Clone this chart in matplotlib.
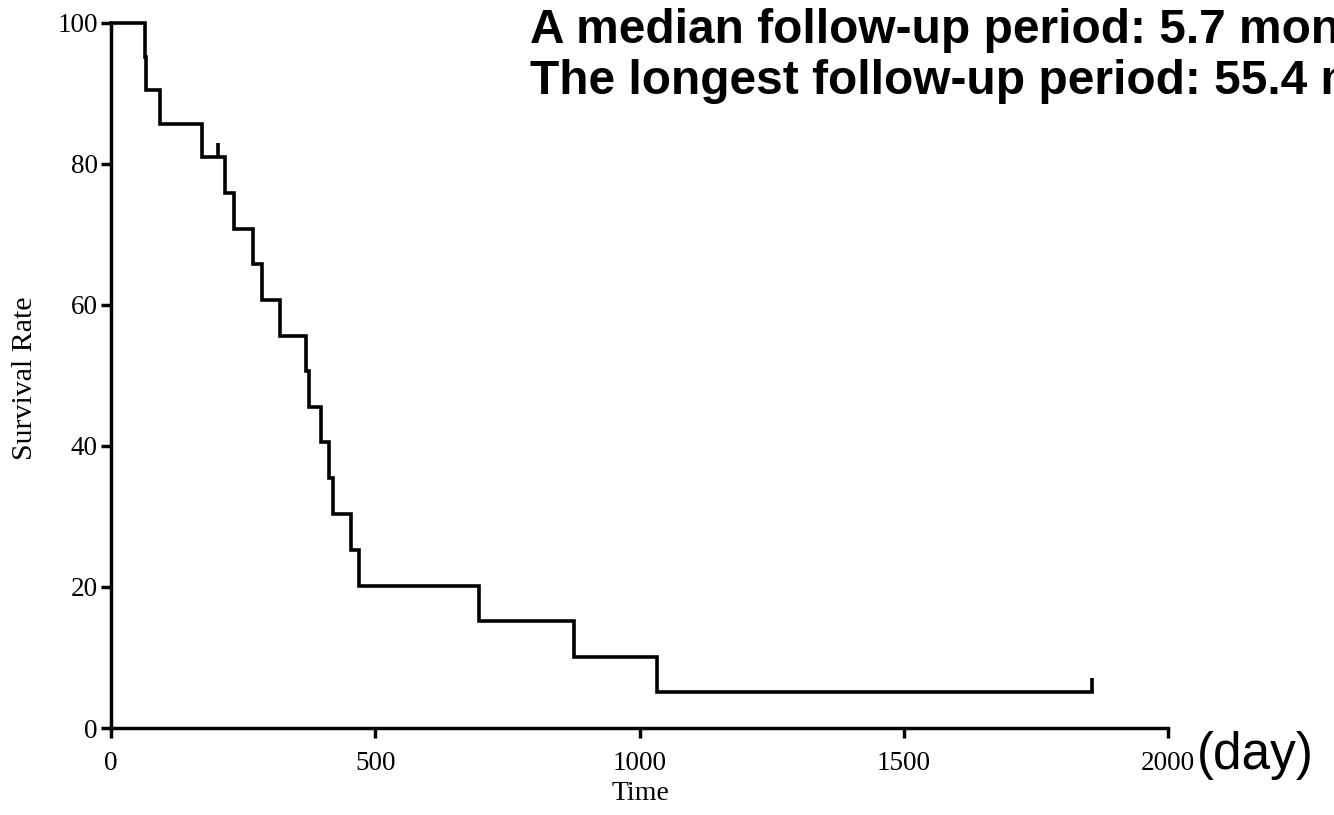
import matplotlib
matplotlib.use("Agg")
import matplotlib.pyplot as plt

# ---- data ----
event_times = [0, 65, 67, 93, 173, 216, 232, 268, 285, 320, 369, 375, 397, 412,
               421, 455, 469, 697, 876, 1033, 1857]
survival = [100, 95.2, 90.5, 85.7, 81.0, 75.9, 70.8, 65.8, 60.7, 55.6, 50.6,
            45.5, 40.5, 35.4, 30.4, 25.3, 20.2, 15.2, 10.1, 5.1, 5.1]
censor_times = [203, 1857]
censor_surv = [81.0, 5.1]
x_ticks = [0, 500, 1000, 1500, 2000]
y_ticks = [0, 20, 40, 60, 80, 100]
title_lines = ["A median follow-up period: 5.7 months",
               "The longest follow-up period: 55.4 months"]

W, H = 1334, 815
fig = plt.figure(figsize=(W / 100, H / 100), dpi=100)
ax = fig.add_axes([111 / W, 1 - 728 / H, (1168 - 111) / W, (728 - 22.7) / H])

ax.step(event_times, survival, where="post", color="black", lw=2.6,
        clip_on=False, solid_joinstyle="miter")
ax.vlines(censor_times, censor_surv, [s + 2.0 for s in censor_surv],
          color="black", lw=2.6, clip_on=False)

ax.set_xlim(0, 2000)
ax.set_ylim(0, 100)
ax.set_xticks(x_ticks)
ax.set_yticks(y_ticks)
for s in ["top", "right"]:
    ax.spines[s].set_visible(False)
for s in ["left", "bottom"]:
    ax.spines[s].set_linewidth(2.5)
    ax.spines[s].set_color("black")

serif = "Liberation Serif"
ax.tick_params(axis="both", direction="out", length=7.5, width=2.5,
               colors="black", labelsize=19.5)
ax.tick_params(axis="y", pad=2)
ax.tick_params(axis="x", pad=9)
for lab in ax.get_xticklabels() + ax.get_yticklabels():
    lab.set_fontfamily(serif)

fig.text(25 / W, 1 - 378 / H, "Survival Rate", rotation=90, ha="center",
         va="center", fontsize=21.5, family=serif)
fig.text(640 / W, 1 - 800 / H, "Time", ha="center", va="baseline",
         fontsize=20, family=serif)
fig.text(1197 / W, 1 - 769 / H, "(day)", ha="left", va="baseline",
         fontsize=37, family="Liberation Sans")

fig.text(530 / W, 1 - 42.7 / H, title_lines[0], ha="left", va="baseline",
         fontsize=34.5, fontweight="bold", family="Liberation Sans")
fig.text(530 / W, 1 - 94 / H, title_lines[1], ha="left", va="baseline",
         fontsize=34.5, fontweight="bold", family="Liberation Sans")

fig.savefig("out.png", dpi=100)
